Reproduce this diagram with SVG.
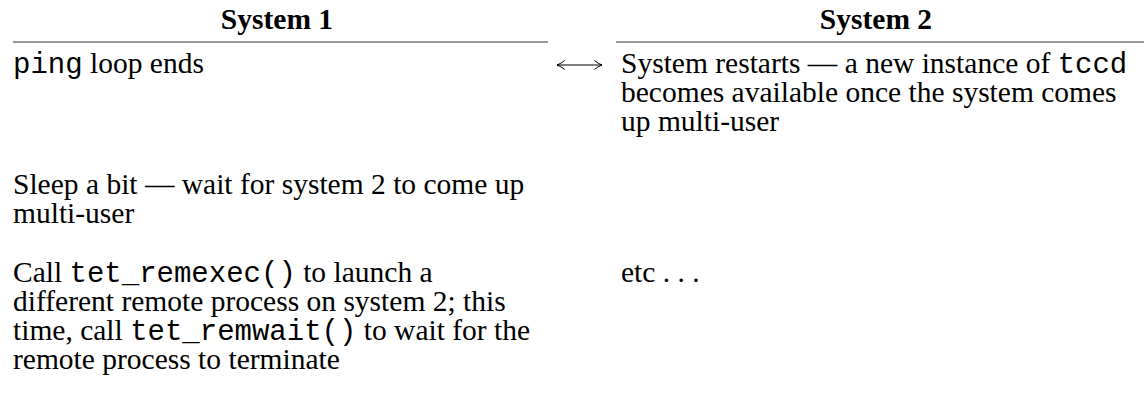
<svg xmlns="http://www.w3.org/2000/svg" width="1144" height="395" viewBox="0 0 1144 395">
<style>
text{font-family:"Liberation Serif","Times New Roman",serif;font-size:29.5px;fill:#000}
.h{font-weight:bold;text-anchor:middle}
.m{font-family:"Liberation Mono","Courier New",monospace;font-size:29px}
.rule{stroke:#333;stroke-width:1.2}
.conn{stroke:#000;stroke-width:1.2;fill:none}
</style>
<defs>
<marker id="ah" viewBox="0 0 10 12" refX="9.5" refY="6" markerWidth="9" markerHeight="11" orient="auto-start-reverse" markerUnits="userSpaceOnUse">
<path d="M1,1 Q5,4.5 9.5,6 Q5,7.5 1,11" fill="none" stroke="#000" stroke-width="1.1"/>
</marker>
</defs>
<rect width="1144" height="395" fill="#fff"/>
<g id="header1"><text class="h" x="277" y="29">System 1</text><line class="rule" x1="13" y1="42" x2="548" y2="42"/></g>
<g id="header2"><text class="h" x="876" y="29">System 2</text><line class="rule" x1="616" y1="42" x2="1144" y2="42"/></g>
<g id="s1-ping"><text x="13" y="73"><tspan class="m">ping</tspan> loop ends</text></g>
<g id="s2-restart">
<text x="621" y="73">System restarts — a new instance of <tspan class="m">tccd</tspan></text>
<text x="621" y="102">becomes available once the system comes</text>
<text x="621" y="131">up multi-user</text>
</g>
<g id="s1-sleep">
<text x="13" y="194">Sleep a bit — wait for system 2 to come up</text>
<text x="13" y="223">multi-user</text>
</g>
<g id="s1-remexec">
<text x="13" y="282">Call <tspan class="m">tet_remexec()</tspan> to launch a</text>
<text x="13" y="311">different remote process on system 2; this</text>
<text x="13" y="340">time, call <tspan class="m">tet_remwait()</tspan> to wait for the</text>
<text x="13" y="369">remote process to terminate</text>
</g>
<g id="s2-etc"><text x="621" y="282">etc . . .</text></g>
<g id="connectors"><path class="conn" d="M557,65 L602,65" marker-start="url(#ah)" marker-end="url(#ah)"/></g>
</svg>
